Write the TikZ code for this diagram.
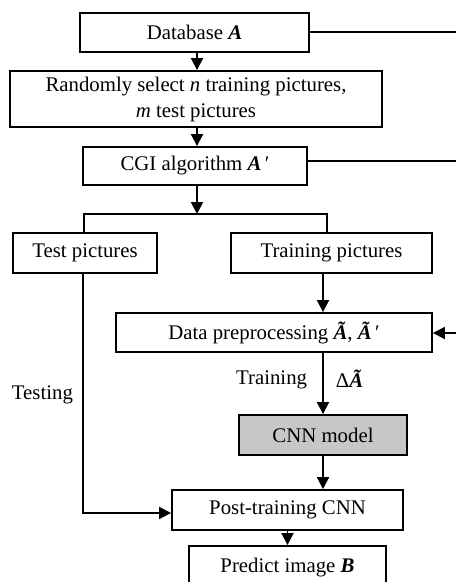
\documentclass[tikz,border=0pt]{standalone}
\usepackage{fontspec}
\setmainfont{Liberation Serif}
\usetikzlibrary{arrows.meta}
\begin{document}
\begin{tikzpicture}[x=1pt,y=-1pt,
  line width=1.9pt,
  every node/.style={font=\fontsize{20.8}{24}\selectfont},
  box/.style={draw, rectangle, inner sep=0pt, align=center},
  arr/.style={-{Triangle[length=12pt,width=12pt]}},
  lbl/.style={inner sep=0pt}]
\clip (0,0) rectangle (456,582);
\useasboundingbox (0,0) rectangle (456,582);
\node[box, minimum width=229pt, minimum height=39pt] (db) at (194.5,32.5) {Database \textbf{\textit{A}}};
\node[box, minimum width=372pt, minimum height=56pt] (rand) at (196,99) {Randomly select \textit{n} training pictures,\\[2pt]\textit{m} test pictures};
\node[box, minimum width=224pt, minimum height=38pt] (cgi) at (195,166) {CGI algorithm \textbf{\textit{A}}\,′};
\node[box, minimum width=144pt, minimum height=40pt] (test) at (85,253) {Test pictures};
\node[box, minimum width=201pt, minimum height=40pt] (train) at (331.5,253) {Training pictures};
\node[box, minimum width=316pt, minimum height=39pt] (data) at (274,332.5) {Data preprocessing \textbf{\textit{\~{A}}}, \textbf{\textit{\~{A}}}\,′};
\node[box, minimum width=168pt, minimum height=40pt, fill=black!22] (cnn) at (323,435) {CNN model};
\node[box, minimum width=231pt, minimum height=40pt] (post) at (287.5,510) {Post-training CNN};
\node[box, minimum width=197pt, minimum height=44pt] (pred) at (287.5,568) {Predict image \textbf{\textit{B}}};
\coordinate (split) at (197,214);
\coordinate (e1) at (456,32);
\coordinate (e2) at (456,161);
\coordinate (e3) at (456,333);
\draw[arr] (db.south -| 197,0) -- (rand.north -| 197,0);
\draw[arr] (rand.south -| 197,0) -- (cgi.north -| 197,0);
\draw[arr] (cgi.south -| split) -- (split);
\draw (test.north -| 84,0) -- (84,214) -- (327,214) -- (train.north -| 327,0);
\draw[arr] (train.south -| 323,0) -- (data.north -| 323,0);
\draw[arr] (data.south -| 323,0) -- (cnn.north -| 323,0);
\draw[arr] (cnn.south -| 323,0) -- (post.north -| 323,0);
\draw[arr] (post.south -| 287.5,0) -- (pred.north -| 287.5,0);
\draw[arr] (test.south -| 83,0) -- (83,513) -- (post.west |- 0,513);
\draw (db.east |- e1) -- (e1);
\draw (cgi.east |- e2) -- (e2);
\draw[arr] (e3) -- (data.east |- e3);
\node[lbl, anchor=east] (ltrain) at (308,380) {Training};
\node[lbl, anchor=west] (ldelta) at (335,379) {Δ\textbf{\textit{\~{A}}}};
\node[lbl, anchor=west] (ltest) at (11,395) {Testing};
\end{tikzpicture}
\end{document}
